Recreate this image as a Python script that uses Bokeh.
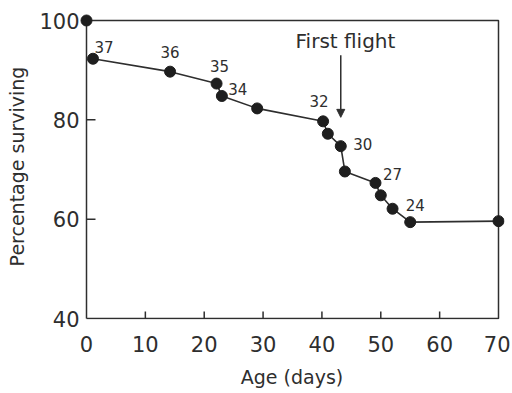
from bokeh.plotting import figure
from bokeh.models import Range1d, FixedTicker, ColumnDataSource, LabelSet, Label, Arrow, NormalHead
from bokeh.core.properties import value
from bokeh.embed import file_html
from bokeh.resources import INLINE

# ---- data ----
ages = [0, 1.1, 14.2, 22.1, 23.0, 29.0, 40.2, 41.0, 43.2, 43.9, 49.1, 50.0, 52.0, 55.0, 70.0]
surviving = [100, 92.3, 89.7, 87.3, 84.8, 82.3, 79.7, 77.2, 74.7, 69.6, 67.3, 64.8, 62.1, 59.4, 59.6]
# count labels: index into points, and the count text
label_idx = [1, 2, 3, 4, 6, 8, 10, 13]
label_text = ["37", "36", "35", "34", "32", "30", "27", "24"]
label_dx = [11, 0, 3, 16, -4, 22, 17, 5]
label_dy = [12, 20, 18, 7, 20, 2, 9, 17]
x_ticks = [0, 10, 20, 30, 40, 50, 60, 70]
y_ticks = [40, 60, 80, 100]
X_MIN, X_MAX = 0, 70
Y_MIN, Y_MAX = 40, 100
first_flight_age = 43.2
arrow_top, arrow_tip = 93.0, 80.5

# ---- layout ----
PX_X = 412 / 70.0
PX_Y = 298 / 60.0
PAD_L, PAD_R, PAD_T, PAD_B = 7, 6, 7, 1
INK = "#2e2e2e"
FONT = "DejaVu Sans"

p = figure(width=510, height=392, output_backend="svg", toolbar_location=None,
           x_range=Range1d(X_MIN - PAD_L / PX_X, X_MAX + PAD_R / PX_X),
           y_range=Range1d(Y_MIN - PAD_B / PX_Y, Y_MAX + PAD_T / PX_Y),
           min_border_left=79, min_border_right=6, min_border_top=13, min_border_bottom=73)
p.outline_line_color = None
p.xgrid.visible = False
p.ygrid.visible = False
p.background_fill_color = "white"
p.border_fill_color = "white"

for ax in (p.xaxis[0], p.yaxis[0]):
    ax.axis_line_color = None
    ax.major_tick_line_color = None
    ax.minor_tick_line_color = None
    ax.major_tick_in = 0
    ax.major_tick_out = 0
    ax.major_label_text_font = FONT
    ax.major_label_text_font_size = "21px"
    ax.major_label_text_color = INK
    ax.axis_label_text_font = FONT
    ax.axis_label_text_font_size = "19px"
    ax.axis_label_text_font_style = "normal"
    ax.axis_label_text_color = INK

p.xaxis.ticker = FixedTicker(ticks=x_ticks)
p.yaxis.ticker = FixedTicker(ticks=y_ticks)
p.xaxis.major_label_standoff = 16
p.yaxis.major_label_standoff = 0
p.xaxis.axis_label = "Age (days)"
p.yaxis.axis_label = "Percentage surviving"
p.xaxis.axis_label_standoff = 11
p.yaxis.axis_label_standoff = 8

# frame box
p.line([X_MIN, X_MAX, X_MAX, X_MIN, X_MIN], [Y_MIN, Y_MIN, Y_MAX, Y_MAX, Y_MIN],
       line_color=INK, line_width=1.5)
# inner ticks
inner_x = [t for t in x_ticks if X_MIN < t < X_MAX]
inner_y = [t for t in y_ticks if Y_MIN < t < Y_MAX]
p.segment(x0=inner_x, y0=[Y_MIN] * len(inner_x), x1=inner_x,
          y1=[Y_MIN + 7 / PX_Y] * len(inner_x), line_color=INK, line_width=1.5)
p.segment(x0=[X_MIN] * len(inner_y), y0=inner_y, x1=[X_MIN + 9 / PX_X] * len(inner_y),
          y1=inner_y, line_color=INK, line_width=1.5)

# survival curve
p.line(ages[1:], surviving[1:], line_color=INK, line_width=1.6)
p.scatter(ages, surviving, size=11, fill_color="#1e1e1e", line_color="#1e1e1e")

lab_src = ColumnDataSource(dict(
    x=[ages[i] for i in label_idx],
    y=[surviving[i] for i in label_idx],
    text=label_text, dx=label_dx, dy=label_dy))
p.add_layout(LabelSet(x="x", y="y", text="text", x_offset="dx", y_offset="dy", source=lab_src,
                      text_font=value(FONT), text_font_size=value("15px"), text_color=INK,
                      text_align="center", text_baseline="middle"))

p.add_layout(Label(x=44.0, y=95.8, text="First flight", text_font=FONT, text_font_size="20px",
                   text_color=INK, text_align="center", text_baseline="middle"))
p.add_layout(Arrow(end=NormalHead(size=8, fill_color=INK, line_color=INK),
                   x_start=first_flight_age, y_start=arrow_top,
                   x_end=first_flight_age, y_end=arrow_tip,
                   line_color=INK, line_width=1.5))

open("out.html", "w").write(file_html(p, INLINE))
